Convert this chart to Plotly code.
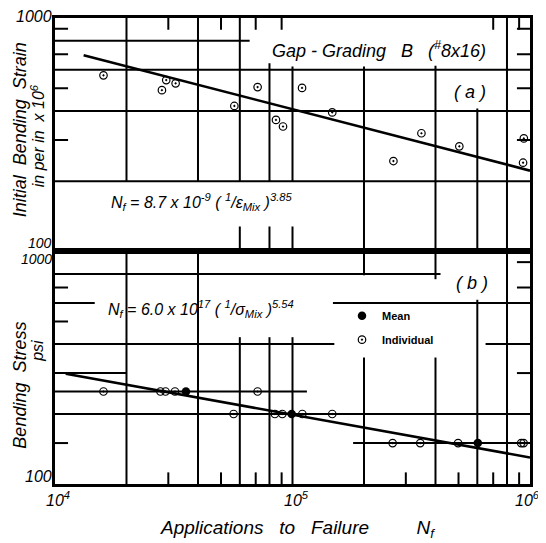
import math
import plotly.graph_objects as go
from plotly.subplots import make_subplots

# ---------------- data ----------------
# (a) initial bending strain vs applications to failure (individual specimens)
cycles_a = [16000, 29400, 28200, 32200, 56900, 71300, 85200, 91200, 109700,
            147000, 266000, 349000, 504000, 942000, 935000]
strain_a = [568, 542, 491, 525, 420, 506, 366, 343, 502,
            394, 244, 321, 282, 305, 240]
fit_a_cycles = [13200, 1000000]
fit_a_strain = [693, 222]

# (b) bending stress vs applications to failure
ind_cycles_b = [16000, 27800, 29200, 32000, 71300,
                56500, 84300, 90600, 110000, 147000,
                264000, 345000, 498000, 918000, 940000]
ind_stress_b = [250, 250, 250, 250, 250,
                200, 200, 200, 200, 200,
                150, 150, 150, 150, 150]
mean_cycles_b = [35600, 99200, 603000]
mean_stress_b = [250, 200, 150]
fit_b_cycles = [11100, 1000000]
fit_b_stress = [298, 130]

x_tick_vals = [1e4, 1e5, 1e6]
x_tick_text = ["10<sup>4</sup>", "10<sup>5</sup>", "10<sup>6</sup>"]
y_tick_text = ["100", "1000"]

# ---------------- hand-drawn grid (layout) ----------------
grid_a_h = [(800, 1e4, 6.6e4), (600, 1e4, 1e6), (400, 1e4, 1e6), (200, 1e4, 1e6)]
grid_a_v = [(2e4, 200, 1000), (4e4, 200, 1000), (6e4, 200, 1000), (6e4, 100, 128),
            (8e4, 200, 640), (8e4, 100, 128), (1e5, 200, 620), (1e5, 100, 128),
            (2e5, 100, 620), (4e5, 100, 625), (6e5, 100, 410), (8e5, 100, 1000)]
ticks_a_left = [900, 700, 500, 300]
ticks_a_right = [900, 700, 500, 300]
ticks_a_top = [3e4, 5e4, 7e4, 9e4, 7e5, 9e5]

grid_b_h = [(800, 1e4, 4.2e5), (600, 1e4, 1.47e4), (600, 1.48e5, 1e6),
            (400, 1e4, 1.5e5), (400, 6.5e5, 1e6), (300, 1e4, 2e4),
            (250, 1e4, 1.15e5), (200, 1e4, 1e6), (150, 1.8e5, 1e6)]
grid_b_v = [(2e4, 100, 1000), (4e4, 100, 1000), (6e4, 100, 428), (8e4, 100, 428),
            (1e5, 100, 428), (2e5, 790, 1000), (2e5, 100, 350), (4e5, 760, 1000),
            (4e5, 100, 350), (6e5, 100, 620), (8e5, 100, 1000)]
ticks_b_left = [700, 500, 150]
ticks_b_right = [900, 700, 300]
ticks_b_bottom = [3e4, 5e4, 7e4, 9e4, 3e5, 5e5, 7e5, 9e5]

# ---------------- figure ----------------
# page is 546x543 but the html body adds an 8px margin
OFF = 8
PAGE_W, PAGE_H = 546, 543
W, H = PAGE_W - OFF, PAGE_H - OFF
X0, X1, Y0, Y1 = 55, 530, 15, 484          # plot area in page pixels
ML, MR, MT, MB = X0 - OFF, PAGE_W - X1, Y0 - OFF, PAGE_H - Y1
PW, PH = X1 - X0, Y1 - Y0


def px(xp):
    return (xp - X0) / PW


def py(yp):
    return (Y1 - yp) / PH


NB = "\u00a0"
FONT = "Liberation Sans, Arial, sans-serif"
fig = make_subplots(rows=2, cols=1, shared_xaxes=True, vertical_spacing=0)

fig.add_trace(go.Scatter(x=fit_a_cycles, y=fit_a_strain, mode="lines",
                         line=dict(color="black", width=2.6), showlegend=False), 1, 1)
fig.add_trace(go.Scatter(x=cycles_a, y=strain_a, mode="markers",
                         marker=dict(symbol="circle-open-dot", size=7.5, color="black",
                                     line=dict(width=1.2, color="black")),
                         showlegend=False), 1, 1)
fig.add_trace(go.Scatter(x=fit_b_cycles, y=fit_b_stress, mode="lines",
                         line=dict(color="black", width=2.6), showlegend=False), 2, 1)
fig.add_trace(go.Scatter(x=mean_cycles_b, y=mean_stress_b, mode="markers", name="<b>Mean</b>",
                         legendgroup="m",
                         marker=dict(symbol="circle", size=8.5, color="black")), 2, 1)
fig.add_trace(go.Scatter(x=ind_cycles_b, y=ind_stress_b, mode="markers", name="<b>Individual</b>",
                         legendgroup="i",
                         marker=dict(symbol="circle-open-dot", size=7.5, color="black",
                                     line=dict(width=1.2, color="black"))), 2, 1)

shapes = []
GW = 2
TL_X = 10 ** 0.055
TL_Y = 10 ** 0.05


def seg(xr, yr, x0, x1, y0, y1, w=GW):
    shapes.append(dict(type="line", xref=xr, yref=yr, x0=x0, x1=x1, y0=y0, y1=y1,
                       line=dict(color="black", width=w), layer="below"))


for xr, yr, gh, gv, tl, tr, tt, tb in [
    ("x", "y", grid_a_h, grid_a_v, ticks_a_left, ticks_a_right, ticks_a_top, []),
    ("x2", "y2", grid_b_h, grid_b_v, ticks_b_left, ticks_b_right, [], ticks_b_bottom),
]:
    for v, a, b in gh:
        seg(xr, yr, a, b, v, v)
    for v, a, b in gv:
        seg(xr, yr, v, v, a, b)
    for v in tl:
        seg(xr, yr, 1e4, 1e4 * TL_X, v, v)
    for v in tr:
        seg(xr, yr, 1e6 / TL_X, 1e6, v, v)
    for v in tt:
        seg(xr, yr, v, v, 1000 / TL_Y, 1000)
    for v in tb:
        seg(xr, yr, v, v, 100, 100 * TL_Y)

ann = []


def text(t, xp, yp, size=16, xa="center", ya="middle", angle=0):
    ann.append(dict(text=t, x=px(xp), y=py(yp), xref="paper", yref="paper",
                    xanchor=xa, yanchor=ya, showarrow=False, textangle=angle,
                    font=dict(family=FONT, size=size, color="black")))


# y tick labels
text("<i>" + y_tick_text[1] + "</i>", 54, 13, 16, xa="right")
text("<i>" + y_tick_text[0] + "</i>", 54, 241, 14, xa="right")
text("<i>" + y_tick_text[1] + "</i>", 54, 258, 14, xa="right")
text("<i>" + y_tick_text[0] + "</i>", 54, 476, 16, xa="right")
# x tick labels
x_label_shift = [3, 4, -3]
for v, t, s in zip(x_tick_vals, x_tick_text, x_label_shift):
    xp = X0 + PW * (math.log10(v) - 4) / 2 + s
    text("<i>" + t + "</i>", xp, 499, 16)

# axis titles
sp2 = NB + NB
sp3 = NB * 3
text("<i>Initial" + sp2 + "Bending" + sp2 + "Strain</i>", 20, 128, 18, angle=-90)
text("<i>in per in" + sp2 + "x 10<sup>6</sup></i>", 38, 134, 16, angle=-90)
text("<i>Bending" + sp2 + "Stress</i>", 20, 385, 18, angle=-90)
text("<i>psi</i>", 38, 350, 16, angle=-90)
text("<i>Applications" + sp3 + "to" + sp3 + "Failure" + NB * 9 + "N<sub>f</sub></i>",
     297, 529, 19)

# panel texts
text("<i>Gap" + NB + "-" + NB + "Grading" + sp3 + "B" + sp3 + "(<sup>#</sup>8x16)</i>",
     379, 47, 18)
text("<i>(" + NB + "a" + NB + ")</i>", 470, 89, 18)
text("<i>(" + NB + "b" + NB + ")</i>", 472, 282, 18)
text("<i>N<sub>f</sub> = 8.7 x 10<sup>-9</sup> ( <sup>1</sup>/ε<sub>Mix</sub> )<sup>3.85</sup></i>",
     201, 200, 16)
text("<i>N<sub>f</sub> = 6.0 x 10<sup>17</sup> ( <sup>1</sup>/σ<sub>Mix</sub> )<sup>5.54</sup></i>",
     201, 308, 16)

axis_common = dict(type="log", range=[4, 6], showline=True, mirror=True, linewidth=3,
                   linecolor="black", showgrid=False, zeroline=False, ticks="",
                   showticklabels=False)
yaxis_common = dict(type="log", range=[2, 3], showline=True, mirror=True, linewidth=3,
                    linecolor="black", showgrid=False, zeroline=False, ticks="",
                    showticklabels=False)

split = py(250)
fig.update_layout(
    width=W, height=H,
    margin=dict(l=ML, r=MR, t=MT, b=MB),
    paper_bgcolor="white", plot_bgcolor="white",
    xaxis=dict(axis_common),
    xaxis2=dict(axis_common),
    yaxis=dict(yaxis_common, domain=[split, 1]),
    yaxis2=dict(yaxis_common, domain=[0, split]),
    shapes=shapes,
    annotations=ann,
    showlegend=True,
    legend=dict(x=px(342), y=py(300), xanchor="left", yanchor="top",
                bgcolor="rgba(0,0,0,0)", tracegroupgap=5,
                font=dict(family=FONT, size=11, color="black")),
)

fig.write_html("out.html")
